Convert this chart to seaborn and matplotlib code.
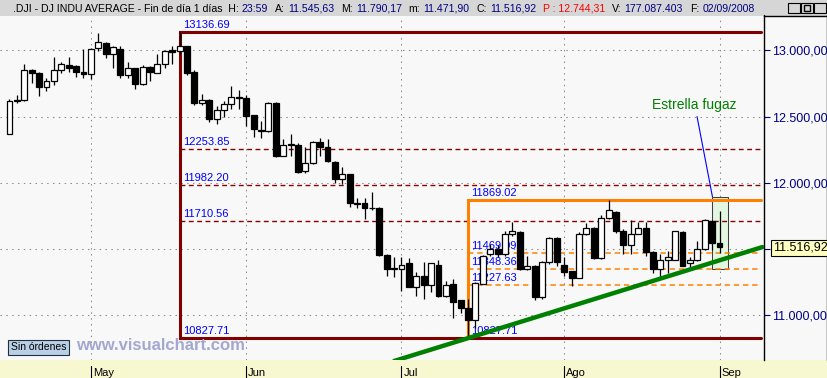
import matplotlib
matplotlib.use("Agg")
import matplotlib.pyplot as plt
import matplotlib.transforms as mtransforms
from matplotlib.patches import Rectangle
from matplotlib.lines import Line2D
import numpy as np
import pandas as pd
import seaborn as sns

# ---------------- data ----------------
dates = [
    "2008-04-16", "2008-04-17", "2008-04-18", "2008-04-21", "2008-04-22", "2008-04-23",
    "2008-04-24", "2008-04-25", "2008-04-28", "2008-04-29", "2008-04-30",
    "2008-05-01", "2008-05-02", "2008-05-05", "2008-05-06", "2008-05-07", "2008-05-08",
    "2008-05-09", "2008-05-12", "2008-05-13", "2008-05-14", "2008-05-15", "2008-05-16",
    "2008-05-19", "2008-05-20", "2008-05-21", "2008-05-22", "2008-05-23", "2008-05-27",
    "2008-05-28", "2008-05-29", "2008-05-30",
    "2008-06-02", "2008-06-03", "2008-06-04", "2008-06-05", "2008-06-06", "2008-06-09",
    "2008-06-10", "2008-06-11", "2008-06-12", "2008-06-13", "2008-06-16", "2008-06-17",
    "2008-06-18", "2008-06-19", "2008-06-20", "2008-06-23", "2008-06-24", "2008-06-25",
    "2008-06-26", "2008-06-27", "2008-06-30",
    "2008-07-01", "2008-07-02", "2008-07-03", "2008-07-07", "2008-07-08", "2008-07-09",
    "2008-07-10", "2008-07-11", "2008-07-14", "2008-07-15", "2008-07-16", "2008-07-17",
    "2008-07-18", "2008-07-21", "2008-07-22", "2008-07-23", "2008-07-24", "2008-07-25",
    "2008-07-28", "2008-07-29", "2008-07-30", "2008-07-31",
    "2008-08-01", "2008-08-04", "2008-08-05", "2008-08-06", "2008-08-07", "2008-08-08",
    "2008-08-11", "2008-08-12", "2008-08-13", "2008-08-14", "2008-08-15", "2008-08-18",
    "2008-08-19", "2008-08-20", "2008-08-21", "2008-08-22", "2008-08-25", "2008-08-26",
    "2008-08-27", "2008-08-28", "2008-08-29",
    "2008-09-02",
]
opens = [
    12370, 12620, 12623, 12855, 12830, 12722, 12767, 12853, 12890, 12878, 12835,
    12823, 13019, 13057, 12973, 13013, 12812, 12863, 12744, 12876, 12831, 12898, 13000,
    12993, 13029, 12835, 12601, 12626, 12483, 12546, 12596, 12651,
    12643, 12508, 12400, 12390, 12604, 12206, 12285, 12289, 12090, 12148, 12311, 12272,
    12158, 12025, 12068, 11851, 11844, 11808, 11810, 11455, 11351,
    11351, 11391, 11212, 11293, 11227, 11383, 11144, 11235, 11112, 11057, 10968, 11240,
    11466, 11504, 11466, 11610, 11630, 11347, 11375, 11140, 11406, 11580,
    11383, 11333, 11283, 11610, 11660, 11429, 11736, 11781, 11640, 11529, 11615, 11660,
    11479, 11351, 11421, 11421, 11630, 11391, 11421, 11504, 11710,
    11545.63,
]
highs = [
    12630, 12660, 12900, 12860, 12840, 12790, 12948, 12915, 12948, 12890, 13011,
    13020, 13132, 13065, 13030, 13030, 12915, 12870, 12890, 12885, 12975, 13006, 13030,
    13136.69, 13035, 12850, 12672, 12630, 12580, 12620, 12729, 12700,
    12660, 12510, 12465, 12610, 12610, 12330, 12365, 12300, 12270, 12315, 12335, 12330,
    12165, 12121, 12070, 11887, 11887, 11930, 11815, 11460, 11441,
    11440, 11434, 11330, 11404, 11395, 11420, 11260, 11276, 11115, 11124, 11250, 11455,
    11540, 11530, 11640, 11703, 11640, 11446, 11380, 11410, 11590, 11590,
    11440, 11335, 11625, 11698, 11665, 11760, 11869.02, 11790, 11650, 11723, 11703, 11703,
    11485, 11460, 11484, 11640, 11635, 11440, 11560, 11725, 11720,
    11790.17,
]
lows = [
    12365, 12600, 12618, 12755, 12655, 12690, 12740, 12830, 12840, 12800, 12790,
    12780, 12993, 12940, 12868, 12790, 12790, 12710, 12738, 12770, 12825, 12870, 12898,
    12970, 12815, 12590, 12590, 12457, 12445, 12495, 12555, 12560,
    12427, 12345, 12340, 12385, 12196, 12200, 12200, 12075, 12075, 12140, 12205, 12155,
    12000, 11990, 11815, 11810, 11728, 11795, 11450, 11295, 11291,
    11182, 11210, 11144, 11124, 11175, 11140, 11140, 10981, 11019, 10827.71, 10906, 11235,
    11445, 11440, 11450, 11600, 11345, 11340, 11115, 11125, 11390, 11370,
    11296, 11220, 11280, 11605, 11425, 11425, 11725, 11620, 11466, 11466, 11610, 11450,
    11320, 11283, 11321, 11420, 11375, 11346, 11410, 11495, 11490,
    11471.90,
]
closes = [
    12619, 12622, 12850, 12828, 12722, 12765, 12850, 12895, 12870, 12835, 12823,
    13013, 13064, 12972, 13022, 12812, 12867, 12744, 12875, 12835, 12898, 12996, 12990,
    13034, 12830, 12600, 12626, 12483, 12548, 12596, 12651, 12642,
    12503, 12407, 12392, 12604, 12206, 12287, 12292, 12080, 12146, 12309, 12272, 12161,
    12025, 12068, 11849, 11840, 11808, 11812, 11454, 11351, 11354,
    11381, 11212, 11293, 11232, 11391, 11144, 11232, 11099, 11057, 10966, 11245, 11446,
    11504, 11466, 11610, 11635, 11351, 11370, 11140, 11406, 11585, 11402,
    11325, 11283, 11617, 11660, 11429, 11736, 11791, 11640, 11529, 11615, 11660, 11479,
    11351, 11421, 11440, 11635, 11375, 11421, 11504, 11718, 11547,
    11516.92,
]

month_labels = ["May", "Jun", "Jul", "Ago", "Sep"]
month_keys = ["2008-05", "2008-06", "2008-07", "2008-08", "2008-09"]
ytick_values = [11000, 11500, 12000, 12500, 13000]
hidden_tick_values = [11500]   # covered by the last-price label

red_anchor_date = "2008-05-19"
red_box = [13136.69, 10827.71]
red_levels = [12253.85, 11982.20, 11710.56]
orange_anchor_date = "2008-07-15"
orange_box = [11869.02, 10827.71]
orange_levels = [11469.09, 11348.36, 11227.63]

trend_x = [52.0, 101.8]
trend_y = [10655, 11515]

highlight_dates = ["2008-08-29", "2008-09-02"]
highlight_range = [11351, 11893]
note_text = "Estrella fugaz"
note_pos = [92.55, 12590]
note_line_x = [92.96, 95.05]
note_line_y = [12500, 11893]

last_price_label = "11.516,92"

title_parts = [
    (".DJI - DJ INDU AVERAGE - Fin de día 1 días  H:", "black"),
    ("23:59", "#000080"),
    ("A:", "black"), ("11.545,63", "#000080"),
    ("M:", "black"), ("11.790,17", "#000080"),
    ("m:", "black"), ("11.471,90", "#000080"),
    ("C:", "black"), ("11.516,92", "#000080"),
    ("P : 12.744,31", "#ff0000"),
    ("V:", "black"), ("177.087.403", "#000080"),
    ("F:", "black"), ("02/09/2008", "#000080"),
]

# ---------------- figure ----------------
sns.set_style("white")
plt.rcParams["font.family"] = ["Liberation Sans", "DejaVu Sans"]

W, H = 828, 378
fig = plt.figure(figsize=(W / 100, H / 100), dpi=100)
fig.patch.set_facecolor("#f8f8f8")

PLOT_TOP, PLOT_BOT, PLOT_RIGHT = 16, 360, 764


def fx(px):
    return px / W


def fy(py):
    return 1 - py / H


ax = fig.add_axes([0, fy(PLOT_BOT), fx(PLOT_RIGHT), (PLOT_BOT - PLOT_TOP) / H])
ax.set_facecolor("#f8f8f8")

step = 7.396
first_px = 9.5
ax.set_xlim(-first_px / step, (PLOT_RIGHT - first_px) / step)
ppx = 0.1325  # px per point
ax.set_ylim(11000 - (PLOT_BOT - 315.3) / ppx, 13000 + (50.3 - PLOT_TOP) / ppx)

df = pd.DataFrame(dict(date=pd.to_datetime(dates), open=opens, high=highs,
                       low=lows, close=closes))
df["x"] = np.arange(len(df))
df["up"] = df["close"] >= df["open"]

month_x = [int(df.index[df["date"].dt.strftime("%Y-%m") == k][0]) for k in month_keys]

# grid
dot = (0, (1.4, 4.2))
for m in month_x:
    ax.axvline(m, color="#8a8a8a", lw=0.75, ls=dot, zorder=0.5)
for v in ytick_values:
    ax.axhline(v, color="#8a8a8a", lw=0.75, ls=dot, zorder=0.5)

xr = ax.get_xlim()[1] - 0.4

# highlight rectangle
h0 = int(df.index[df["date"] == highlight_dates[0]][0])
h1 = int(df.index[df["date"] == highlight_dates[1]][0])
ax.add_patch(Rectangle((h0, highlight_range[0]), (h1 + 1.1) - h0,
                       highlight_range[1] - highlight_range[0],
                       facecolor="#e2f6e2", edgecolor="#404040", lw=0.75, zorder=1.5))

# fibonacci boxes
lab_tr = mtransforms.offset_copy(ax.transData, fig=fig, x=3, y=2, units="dots")

xa = int(df.index[df["date"] == red_anchor_date][0])
ax.hlines(red_levels, xa, xr, colors="#880000", lw=1.0, linestyles=[(0, (3.5, 2.5))], zorder=2)
ax.plot([xr, xa, xa, xr], [red_box[0], red_box[0], red_box[1], red_box[1]],
        color="#800000", lw=2.2, solid_joinstyle="miter", zorder=2.5)
for v in [red_box[0]] + red_levels + [red_box[1]]:
    ax.text(xa, v, f"{v:.2f}", transform=lab_tr, color="#0000ff", fontsize=8,
            ha="left", va="bottom", zorder=2.6)

xo = int(df.index[df["date"] == orange_anchor_date][0])
ax.hlines(orange_levels, xo, xr, colors="#ff8000", lw=1.1, linestyles=[(0, (3.5, 2.5))], zorder=2)
ax.plot([xr, xo, xo], [orange_box[0], orange_box[0], orange_box[1]],
        color="#ff8000", lw=2.2, solid_joinstyle="miter", zorder=2.4)
for v in [orange_box[0]] + orange_levels + [orange_box[1]]:
    ax.text(xo, v, f"{v:.2f}", transform=lab_tr, color="#0000ff", fontsize=8,
            ha="left", va="bottom", zorder=2.6)

# candles
ax.vlines(df["x"], df["low"], df["high"], color="black", lw=0.9, zorder=3)
body_lo = np.minimum(df["open"], df["close"])
body_h = np.abs(df["close"] - df["open"])
ax.bar(df["x"], body_h, bottom=body_lo, width=0.8,
       color=np.where(df["up"], "white", "black"), edgecolor="black",
       linewidth=0.9, zorder=4)

# trend line
sns.lineplot(x=trend_x, y=trend_y, color="#008000", lw=3.2, ax=ax, zorder=5)

# note
ax.plot(note_line_x, note_line_y, color="#0000ff", lw=0.8, zorder=5)
ax.text(note_pos[0], note_pos[1], note_text, color="#008000", fontsize=10,
        ha="center", va="center", zorder=6)

# axes styling
ax.yaxis.tick_right()
ax.set_yticks(ytick_values)


def fmt_es(v):
    return f"{v:,.2f}".replace(",", "X").replace(".", ",").replace("X", ".")


ax.set_yticklabels(["" if v in hidden_tick_values else fmt_es(v) for v in ytick_values])
ax.tick_params(axis="y", colors="#000080", labelsize=9, length=4, width=0.8,
               pad=1.5, direction="out")
ax.set_xticks([])
for s in ["top", "left", "bottom"]:
    ax.spines[s].set_visible(False)
ax.spines["right"].set_color("black")
ax.spines["right"].set_linewidth(1)
ax.set_xlabel("")
ax.set_ylabel("")
if ax.get_legend():
    ax.get_legend().remove()

# bottom band with months
fig.patches.append(Rectangle((0, 0), 1, (H - PLOT_BOT) / H, transform=fig.transFigure,
                             facecolor="#f8f8d0", edgecolor="none", zorder=-1))
btr = mtransforms.blended_transform_factory(ax.transData, fig.transFigure)
mlab_tr = mtransforms.offset_copy(btr, fig=fig, x=2, y=0, units="dots")
for m, lab in zip(month_x, month_labels):
    fig.add_artist(Line2D([m, m], [fy(366), 0], transform=btr, color="black", lw=0.8))
    fig.text(m, fy(376), lab, transform=mlab_tr, fontsize=8, color="black",
             ha="left", va="baseline")

# title bar
fig.patches.append(Rectangle((0, fy(PLOT_TOP)), 1, PLOT_TOP / H, transform=fig.transFigure,
                             facecolor="#d6d6d6", edgecolor="none", zorder=-1))
renderer = fig.canvas.get_renderer()
xpos = 13.0
gaps = [0, 3, 7, 3, 7, 3, 7, 3, 7, 3, 7, 7, 3, 7, 3]
for (txt, col), g in zip(title_parts, gaps):
    xpos += g
    t = fig.text(fx(xpos), fy(8.5), txt, color=col, fontsize=7.6, ha="left", va="center")
    bb = t.get_window_extent(renderer)
    xpos = bb.x1

# window buttons
for i, glyph in enumerate(["min", "max", "close"]):
    x0 = 788 + i * 13
    fig.patches.append(Rectangle((fx(x0), fy(13)), 12 / W, 10 / H, transform=fig.transFigure,
                                 facecolor="#d6d6d6", edgecolor="black", lw=0.8, zorder=2))
    if glyph == "min":
        fig.add_artist(Line2D([fx(x0 + 3), fx(x0 + 8)], [fy(11), fy(11)], color="black", lw=1.5))
    elif glyph == "max":
        fig.patches.append(Rectangle((fx(x0 + 3), fy(11)), 6 / W, 6 / H, transform=fig.transFigure,
                                     facecolor="none", edgecolor="black", lw=1, zorder=3))
    else:
        fig.add_artist(Line2D([fx(x0 + 3), fx(x0 + 9)], [fy(5), fy(11)], color="black", lw=1))
        fig.add_artist(Line2D([fx(x0 + 3), fx(x0 + 9)], [fy(11), fy(5)], color="black", lw=1))

# right panel borders
fig.add_artist(Line2D([fx(764.5), fx(764.5)], [fy(15), fy(PLOT_TOP)], color="black", lw=1))
fig.add_artist(Line2D([fx(764), fx(828)], [fy(15.5), fy(15.5)], color="black", lw=1))
fig.add_artist(Line2D([fx(827), fx(827)], [fy(15), fy(PLOT_BOT)], color="black", lw=1))

# last price label
fig.text(fx(773), fy(248), last_price_label, fontsize=9, color="black", ha="left",
         va="center", zorder=10,
         bbox=dict(boxstyle="square,pad=0.15", facecolor="#ffffc0", edgecolor="black", lw=0.8))

# bottom-left widgets
fig.text(fx(11), fy(347.5), "Sin órdenes", fontsize=7.5, color="black", ha="left",
         va="center", zorder=10,
         bbox=dict(boxstyle="square,pad=0.25", facecolor="#b8cfe6", edgecolor="#203040", lw=0.8))
fig.text(fx(76), fy(346), "www.visualchart.com", fontsize=12, fontweight="bold",
         color="#a2a8cf", ha="left", va="center", zorder=10)

fig.savefig("out.png", dpi=100, facecolor=fig.get_facecolor())
